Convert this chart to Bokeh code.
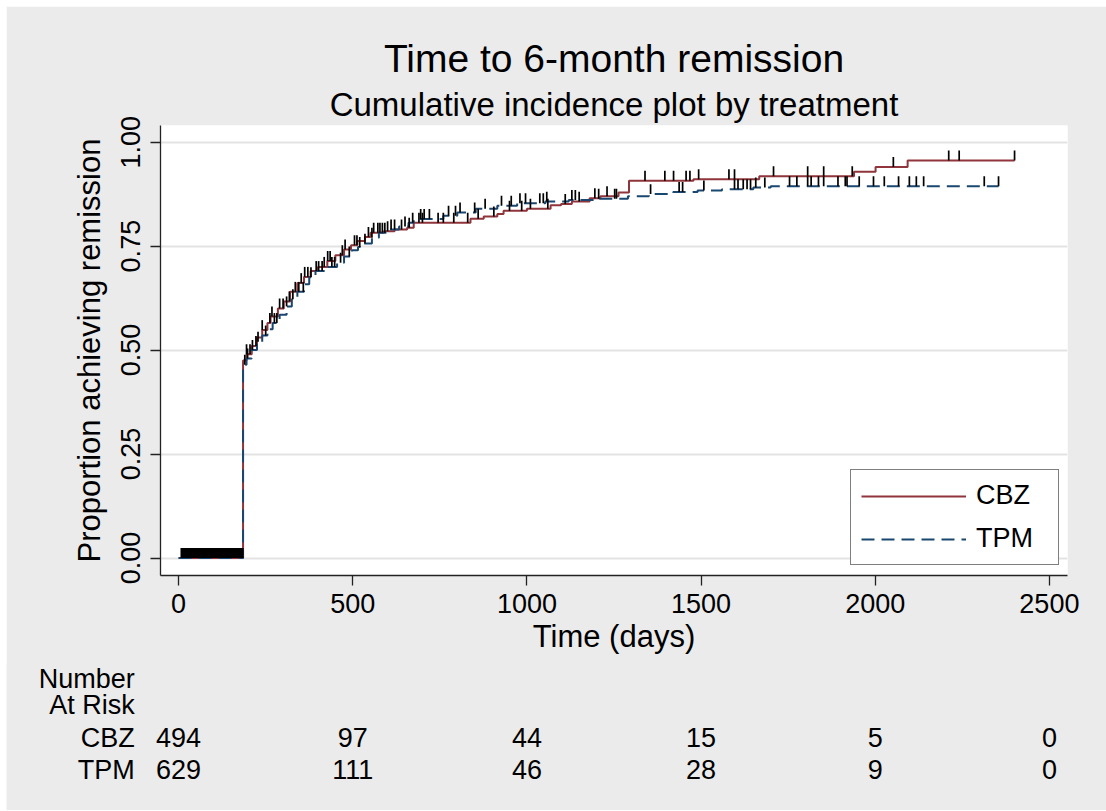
import numpy as np
from bokeh.plotting import figure
from bokeh.models import (ColumnDataSource, Range1d, FixedTicker, NumeralTickFormatter,
                          Legend, LegendItem, Title)
from bokeh.core.properties import value
from bokeh.embed import file_html
from bokeh.resources import INLINE

# ---------------- data ----------------
# CBZ: event times (days) and cumulative incidence after each event
cbz_t = [0, 185, 195, 210, 225, 240, 255, 264, 285, 302, 320, 341, 360, 379, 400, 427, 450,
         475, 495, 513, 535, 551, 589, 620, 656, 675, 838, 876, 915, 933, 1000, 1068, 1098,
         1129, 1180, 1211, 1263, 1293, 1478, 1667, 1939, 2001, 2093]
cbz_y = [0.0, 0.475, 0.49, 0.51, 0.53, 0.548, 0.565, 0.581, 0.60, 0.617, 0.64, 0.661, 0.676,
         0.690, 0.700, 0.714, 0.728, 0.742, 0.752, 0.762, 0.772, 0.782, 0.786, 0.790, 0.794,
         0.806, 0.816, 0.821, 0.827, 0.835, 0.840, 0.848, 0.851, 0.857, 0.865, 0.870, 0.879,
         0.907, 0.911, 0.918, 0.929, 0.940, 0.956]
cbz_end = 2400

# TPM
tpm_t = [0, 185, 195, 210, 225, 240, 255, 270, 290, 310, 325, 341, 360, 375, 393, 420, 455,
         475, 498, 515, 532, 555, 575, 600, 633, 660, 675, 760, 800, 853, 915, 972, 1053,
         1120, 1190, 1290, 1350, 1420, 1490, 1560, 1650, 1700]
tpm_y = [0.0, 0.465, 0.48, 0.50, 0.52, 0.535, 0.55, 0.565, 0.585, 0.605, 0.622, 0.640, 0.658,
         0.675, 0.690, 0.700, 0.710, 0.725, 0.740, 0.748, 0.756, 0.770, 0.782, 0.790, 0.797,
         0.806, 0.815, 0.823, 0.831, 0.840, 0.847, 0.853, 0.857, 0.861, 0.864, 0.870, 0.875,
         0.880, 0.884, 0.887, 0.891, 0.894]
tpm_end = 2354

# censoring times (days)
cbz_cens = [8, 11, 14, 17, 20, 23, 26, 29, 32, 35, 38, 41, 44, 47, 50, 53, 56, 59, 62, 65,
            68, 71, 74, 77, 80, 83, 86, 89, 92, 95, 98, 101, 104, 107, 110, 113, 116, 119,
            122, 125, 128, 131, 134, 137, 140, 143, 146, 149, 152, 155, 158, 161, 164, 167,
            170, 173, 176, 179, 182, 184,
            195, 205, 222, 240, 262, 268, 290, 300, 318, 335, 352, 362, 371, 395, 418, 428,
            435, 470, 478, 505, 512, 545, 560, 572, 585, 600, 640, 662, 690, 700, 745, 760,
            790, 830, 860, 905, 950, 985, 1010, 1060, 1110, 1150, 1195, 1230, 1339, 1396,
            1421, 1457, 1468, 1493, 1580, 1596, 1708, 1806, 1852, 1934, 2052, 2211, 2241, 2400]
tpm_cens = [9, 12, 15, 18, 21, 24, 27, 30, 33, 36, 39, 42, 45, 48, 51, 54, 57, 60, 63, 66,
            69, 72, 75, 78, 81, 84, 87, 90, 93, 96, 99, 102, 105, 108, 111, 114, 117, 120,
            123, 126, 129, 132, 135, 138, 141, 144, 147, 150, 153, 156, 159, 162, 165, 168,
            171, 174, 177, 180, 183,
            190, 198, 212, 228, 250, 275, 282, 310, 328, 345, 358, 380, 402, 412, 440, 448,
            465, 490, 520, 535, 555, 578, 592, 610, 620, 650, 672, 695, 705, 720, 775, 795,
            808, 850, 880, 927, 955, 980, 996, 1037, 1047, 1057, 1129, 1139, 1206, 1252, 1257,
            1355, 1437, 1447, 1508, 1596, 1606, 1621, 1632, 1642, 1657, 1683, 1754, 1775,
            1806, 1816, 1837, 1852, 1893, 1914, 1919, 1954, 1995, 2026, 2067, 2098, 2118,
            2139, 2313, 2354]

x_ticks = [0, 500, 1000, 1500, 2000, 2500]
y_ticks = [0.0, 0.25, 0.5, 0.75, 1.0]

risk_days = [0, 500, 1000, 1500, 2000, 2500]
cbz_risk = [494, 97, 44, 15, 5, 0]
tpm_risk = [629, 111, 46, 28, 9, 0]

groups = ["CBZ", "TPM"]
table_head = ["Number", "At Risk"]

# ---------------- style / layout ----------------
FONT = "Liberation Sans"
BG = "#ebebeb"
CBZ_COLOR = "#90353b"
TPM_COLOR = "#1a476f"
TICK_H = 0.024

FIG_W = 1100
B_LEFT, B_RIGHT = 154, 39
X0, X1 = -52, 2552

p = figure(width=FIG_W, height=660, margin=(6, 0, 0, 6),
           x_range=Range1d(X0, X1), y_range=Range1d(-0.042, 1.040),
           output_backend="svg", toolbar_location=None, title=None,
           min_border_left=B_LEFT, min_border_right=B_RIGHT, min_border_top=119,
           min_border_bottom=91,
           background_fill_color="white", border_fill_color=BG,
           outline_line_color=None)

# grid
p.xgrid.grid_line_color = None
p.ygrid.ticker = FixedTicker(ticks=y_ticks)
p.ygrid.grid_line_color = "#e3e3e3"
p.ygrid.grid_line_width = 2


def steps(t, y, end):
    xs = list(t) + [end]
    ys = list(y) + [y[-1]]
    return xs, ys


cx, cy = steps(cbz_t, cbz_y, cbz_end)
tx, ty = steps(tpm_t, tpm_y, tpm_end)

r_cbz = p.step(cx, cy, mode="after", line_color=CBZ_COLOR, line_width=2)
r_tpm = p.step(tx, ty, mode="after", line_color=TPM_COLOR, line_width=2,
               line_dash="13 7")


def cens_points(cens, t, y):
    t = np.asarray(t, dtype=float)
    y = np.asarray(y, dtype=float)
    c = np.asarray(cens, dtype=float)
    idx = np.searchsorted(t, c, side="right") - 1
    return c, y[idx]


for cens, t, y in [(cbz_cens, cbz_t, cbz_y), (tpm_cens, tpm_t, tpm_y)]:
    c, yc = cens_points(cens, t, y)
    p.segment(x0=c, y0=yc, x1=c, y1=yc + TICK_H, line_color="black", line_width=1.7)

# axes
for ax in (p.xaxis[0], p.yaxis[0]):
    ax.axis_line_color = "#222222"
    ax.axis_line_width = 1.3
    ax.major_tick_line_color = "#222222"
    ax.major_tick_line_width = 1.3
    ax.major_tick_out = 10
    ax.major_tick_in = 0
    ax.minor_tick_out = 0
    ax.minor_tick_in = 0
    ax.major_label_text_font = FONT
    ax.major_label_text_font_size = "27px"
    ax.major_label_text_color = "black"
    ax.axis_label_text_font = FONT
    ax.axis_label_text_font_size = "31px"
    ax.axis_label_text_font_style = "normal"
    ax.axis_label_text_color = "black"

p.xaxis.ticker = FixedTicker(ticks=x_ticks)
p.xaxis.major_label_standoff = 8
p.xaxis.axis_label = "Time (days)"
p.xaxis.axis_label_standoff = 3

p.yaxis.ticker = FixedTicker(ticks=y_ticks)
p.yaxis.formatter = NumeralTickFormatter(format="0.00")
p.yaxis.major_label_orientation = "vertical"
p.yaxis.major_label_standoff = 10
p.yaxis.axis_label = "Proportion achieving remission"
p.yaxis.axis_label_standoff = 12

# titles
p.add_layout(Title(text="Cumulative incidence plot by treatment", align="center",
                   text_font=FONT, text_font_size="33px", text_font_style="normal",
                   text_color="black", standoff=6), "above")
p.add_layout(Title(text="Time to 6-month remission", align="center",
                   text_font=FONT, text_font_size="39px", text_font_style="normal",
                   text_color="black", standoff=2), "above")

# legend
legend = Legend(items=[LegendItem(label=groups[0], renderers=[r_cbz]),
                       LegendItem(label=groups[1], renderers=[r_tpm])],
                location=(690, 10), orientation="vertical",
                border_line_color="black", border_line_width=1.2,
                background_fill_color="white", background_fill_alpha=1.0,
                label_text_font=FONT, label_text_font_size="27px",
                label_text_color="black",
                glyph_width=105, glyph_height=30, label_height=30, label_width=72,
                spacing=12, padding=10, label_standoff=10, margin=0)
p.add_layout(legend)

# ---------------- number-at-risk table (separate root, same day scale) ----------------
k = (FIG_W - B_LEFT - B_RIGHT) / (X1 - X0)          # pixels per day in the main frame
T_H = 146
ROW_Y = {"Number": 132, "At Risk": 106, "CBZ": 73, "TPM": 41}
LABEL_X = -126

q = figure(width=FIG_W, height=T_H, margin=(-2, 0, 0, 6),
           x_range=Range1d(X0 - B_LEFT / k, X1 + B_RIGHT / k),
           y_range=Range1d(0, T_H),
           output_backend="svg", toolbar_location=None, title=None,
           x_axis_type=None, y_axis_type=None,
           min_border=0, min_border_left=0, min_border_right=0,
           min_border_top=0, min_border_bottom=0,
           background_fill_color=BG, border_fill_color=BG, outline_line_color=None)
q.xgrid.grid_line_color = None
q.ygrid.grid_line_color = None

for g, vals in zip(groups, [cbz_risk, tpm_risk]):
    src = ColumnDataSource(dict(x=risk_days, y=[ROW_Y[g]] * len(risk_days),
                                text=[str(v) for v in vals]))
    q.text(x="x", y="y", text="text", source=src, text_align="center",
           text_baseline="middle", text_font=value(FONT), text_font_size="27px",
           text_color="black")

row_names = table_head + groups
hsrc = ColumnDataSource(dict(x=[LABEL_X] * len(row_names),
                             y=[ROW_Y[n] for n in row_names], text=row_names))
q.text(x="x", y="y", text="text", source=hsrc, text_align="right",
       text_baseline="middle", text_font=value(FONT), text_font_size="27px",
       text_color="black")

open("out.html", "w").write(file_html([p, q], INLINE))
